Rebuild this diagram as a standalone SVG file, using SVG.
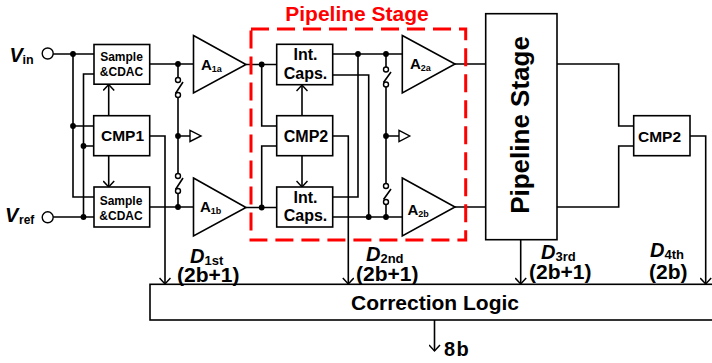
<svg xmlns="http://www.w3.org/2000/svg" width="712" height="363" viewBox="0 0 712 363">
<style>
text{font-family:"Liberation Sans",Arial,sans-serif;font-weight:bold;fill:#000}
.b{fill:#fff;stroke:#000;stroke-width:1.6}
.w{fill:none;stroke:#000;stroke-width:1.6}
.d{fill:#000;stroke:none}
.o{fill:#fff;stroke:#000;stroke-width:1.4}
.s{font-size:12px;text-anchor:middle}
.c{font-size:15.500px;text-anchor:middle}
.i{font-size:16px;text-anchor:middle}
.l{font-size:21px}
.it{font-style:italic}
.sub{font-size:13px;font-style:normal}
</style>
<defs>
<marker id="ah" markerUnits="userSpaceOnUse" markerWidth="16" markerHeight="12" refX="12" refY="6" orient="auto"><path d="M6 0.500L12 6L6 11.500" fill="none" stroke="#000" stroke-width="1.500"/></marker>
<circle id="n" r="2.900" class="d"/>
</defs>
<g id="connectors">
<path class="w" d="M53 54H94M73 54V197H94M94 74H83.500V217M53 217H94M73 126H94M83.500 146H94"/>
<path class="w" d="M149.500 64H193.500M149.500 207H193.500M178 64V77.500M178 97.500V173.500M178 193.500V207M178 136H190"/>
<path class="w" d="M175.500 93.500L183 82M175.500 189.500L183 178"/>
<path class="w" marker-end="url(#ah)" d="M108.700 116V84.500"/>
<path class="w" marker-end="url(#ah)" d="M108.700 156V187"/>
<path class="w" marker-end="url(#ah)" d="M150 136H165V284"/>
<path class="w" d="M246 64.500H276.700M246 207.500H276.700M261.700 64.500V126H276.700M261.700 207.500V146H276.700"/>
<path class="w" marker-end="url(#ah)" d="M302 116V85"/>
<path class="w" marker-end="url(#ah)" d="M302 156V187"/>
<path class="w" d="M332.700 54H402.300M358 54V197H332.700M332.700 75H368.700V217M332.700 217H402.300"/>
<path class="w" d="M386 54V67M386 87V183.500M386 204.500V217M386 136H399M383.500 82.500L391 72M383.500 199.500L391 189"/>
<path class="w" marker-end="url(#ah)" d="M333 136H348.300V284"/>
<path class="w" d="M455 64H486M455 207H486M557 64H618.700V126H634M557 207H618.700V146H634"/>
<path class="w" marker-end="url(#ah)" d="M690 136H705.700V284"/>
<path class="w" marker-end="url(#ah)" d="M520.700 240V284"/>
<path class="w" marker-end="url(#ah)" d="M434.500 320V351"/>
<use href="#n" x="73" y="54"/><use href="#n" x="73" y="126"/><use href="#n" x="83.500" y="146"/><use href="#n" x="83.500" y="217"/>
<use href="#n" x="178" y="64"/><use href="#n" x="178" y="136"/><use href="#n" x="178" y="207"/>
<use href="#n" x="261.700" y="64.500"/><use href="#n" x="261.700" y="207.500"/>
<use href="#n" x="358" y="54"/><use href="#n" x="386" y="54"/><use href="#n" x="386" y="136"/><use href="#n" x="368.700" y="217"/><use href="#n" x="386" y="217"/>
<circle class="o" cx="178" cy="80" r="2.500"/><circle class="o" cx="178" cy="95" r="2.500"/><circle class="o" cx="178" cy="176" r="2.500"/><circle class="o" cx="178" cy="191" r="2.500"/>
<circle class="o" cx="386" cy="69.500" r="2.500"/><circle class="o" cx="386" cy="84.500" r="2.500"/><circle class="o" cx="386" cy="186" r="2.500"/><circle class="o" cx="386" cy="202" r="2.500"/>
<path class="o" d="M190 130.300L201 136L190 141.500Z"/>
<path class="o" d="M399 130.300L409.700 136L399 141.500Z"/>
</g>
<g id="vin"><circle class="o" cx="47.700" cy="53.500" r="5.500"/><text x="9.500" y="62" font-size="20" class="it">V</text><text x="22.500" y="63.500" font-size="12.500">in</text></g>
<g id="vref"><circle class="o" cx="47.700" cy="217.300" r="5.500"/><text x="5" y="222" font-size="20" class="it">V</text><text x="19" y="224" font-size="12">ref</text></g>
<g id="sample1"><rect class="b" x="94" y="44.500" width="55.700" height="39.700"/><text class="s" x="121.500" y="61">Sample</text><text class="s" x="121.500" y="76">&amp;CDAC</text></g>
<g id="cmp1"><rect class="b" x="93.700" y="115.700" width="56" height="40"/><text class="c" x="122.500" y="141">CMP1</text></g>
<g id="sample2"><rect class="b" x="94" y="187" width="55.700" height="40"/><text class="s" x="121" y="205">Sample</text><text class="s" x="121" y="220">&amp;CDAC</text></g>
<g id="a1a"><path class="b" d="M193.500 35.500L246 64.500L193.500 93Z"/><text x="201" y="69.500" font-size="15">A<tspan font-size="9" dy="2">1a</tspan></text></g>
<g id="a1b"><path class="b" d="M193.500 178L246 207.500L193.500 236Z"/><text x="200" y="212" font-size="15">A<tspan font-size="9" dy="2">1b</tspan></text></g>
<g id="int1"><rect class="b" x="276.700" y="44.300" width="56" height="40.400"/><text class="i" x="305.500" y="60">Int.</text><text class="i" x="305.500" y="79">Caps.</text></g>
<g id="cmp2a"><rect class="b" x="276.700" y="115.700" width="56" height="40"/><text class="i" x="306" y="142">CMP2</text></g>
<g id="int2"><rect class="b" x="276.700" y="187" width="56" height="40"/><text class="i" x="305.500" y="203">Int.</text><text class="i" x="305.500" y="221">Caps.</text></g>
<g id="a2a"><path class="b" d="M402.300 35.500L455 64L402.300 93Z"/><text x="410" y="69" font-size="15">A<tspan font-size="9" dy="2">2a</tspan></text></g>
<g id="a2b"><path class="b" d="M402.300 178L455 207L402.300 236Z"/><text x="407.500" y="215" font-size="15">A<tspan font-size="9" dy="2">2b</tspan></text></g>
<g id="stage-frame"><rect x="251" y="29" width="214.700" height="211" fill="none" stroke="#f00" stroke-width="3" stroke-dasharray="18 8"/><text x="357" y="21" font-size="21" style="fill:#f00" text-anchor="middle">Pipeline Stage</text></g>
<g id="pipeline"><rect class="b" x="485.700" y="13.700" width="71.300" height="226"/><text font-size="26" text-anchor="middle" transform="translate(528.500 125) rotate(-90)">Pipeline Stage</text></g>
<g id="cmp2b"><rect class="b" x="633.700" y="115.700" width="56.300" height="40"/><text font-size="15.500" text-anchor="middle" x="659.500" y="142">CMP2</text></g>
<g id="logic"><rect class="b" x="150" y="284.300" width="570" height="35.700"/><text font-size="21" text-anchor="middle" x="435" y="310">Correction Logic</text></g>
<g id="labels">
<text x="190" y="263" font-size="20" class="it">D<tspan class="sub" dy="2">1st</tspan></text>
<text class="l" x="177" y="282">(2b+1)</text>
<text x="366" y="261" font-size="20" class="it">D<tspan class="sub" dy="2">2nd</tspan></text>
<text class="l" x="356" y="281">(2b+1)</text>
<text x="541" y="259" font-size="20" class="it">D<tspan class="sub" dy="2">3rd</tspan></text>
<text class="l" x="529" y="279">(2b+1)</text>
<text x="650" y="257" font-size="20" class="it">D<tspan class="sub" dy="2">4th</tspan></text>
<text class="l" x="649" y="279">(2b)</text>
<text x="444" y="356" font-size="20" letter-spacing="1.500">8b</text>
</g>
</svg>
